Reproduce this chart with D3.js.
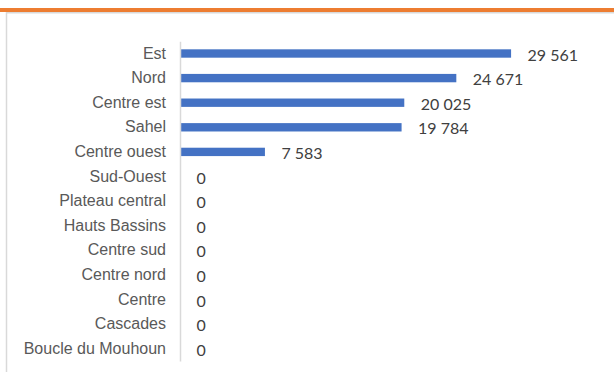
<!DOCTYPE html>
<html>
<head>
<meta charset="utf-8">
<script src="https://cdn.jsdelivr.net/npm/d3@7"></script>
<style>
  html, body { margin: 0; padding: 0; background: #ffffff; }
  svg { display: block; }
</style>
</head>
<body>
<svg id="chart" width="614" height="372"></svg>
<script>
// Regions, top to bottom, with their counts
const regions = [
  "Est", "Nord", "Centre est", "Sahel", "Centre ouest", "Sud-Ouest",
  "Plateau central", "Hauts Bassins", "Centre sud", "Centre nord",
  "Centre", "Cascades", "Boucle du Mouhoun"
];
const counts = [29561, 24671, 20025, 19784, 7583, 0, 0, 0, 0, 0, 0, 0, 0];
const xDomain = [0, 35000];

const svg = d3.select("#chart");
const W = 614, H = 372;

// Orange accent band across the top
svg.append("rect")
  .attr("x", 0).attr("y", 8).attr("width", W).attr("height", 4)
  .attr("fill", "#ED7D31");

// Chart frame (top and left edges visible)
svg.append("path")
  .attr("d", `M6.5,${H + 2} V12.75 H${W + 2}`)
  .attr("fill", "none")
  .attr("stroke", "#d9d9d9")
  .attr("stroke-width", 1.5);

const x = d3.scaleLinear().domain(xDomain).range([180, 572]);
const y = d3.scaleBand()
  .domain(regions)
  .range([41.2, 361])
  .paddingInner(0.66)
  .paddingOuter(0.33);

const fr = d3.formatLocale({ decimal: ",", thousands: " ", grouping: [3], currency: ["", " €"] });
const fmt = fr.format(",d");

const data = regions.map((r, i) => ({ region: r, value: counts[i] }));

// Bars
svg.append("g").selectAll("rect")
  .data(data)
  .join("rect")
  .attr("x", x(0))
  .attr("y", d => y(d.region))
  .attr("width", d => x(d.value) - x(0))
  .attr("height", y.bandwidth())
  .attr("fill", "#4472C4");

// Category axis
const axis = svg.append("g")
  .attr("transform", `translate(${x(0)},0)`)
  .call(d3.axisLeft(y).tickSize(0).tickSizeOuter(0).tickPadding(14));
axis.select(".domain")
  .attr("stroke", "#d9d9d9")
  .attr("stroke-width", 1.5);
axis.selectAll("text")
  .attr("fill", "#595959")
  .style("font-family", "'Liberation Sans', Arial, sans-serif")
  .style("font-size", "16px");

// Value labels
svg.append("g").selectAll("text")
  .data(data)
  .join("text")
  .attr("x", d => x(d.value) + 16.5)
  .attr("y", d => y(d.region) + y.bandwidth() / 2 + 1.5)
  .attr("dy", "0.35em")
  .attr("fill", "#404040")
  .style("font-family", "Lato, 'Open Sans', sans-serif")
  .style("font-size", "16px")
  .text(d => fmt(d.value));
</script>
</body>
</html>
